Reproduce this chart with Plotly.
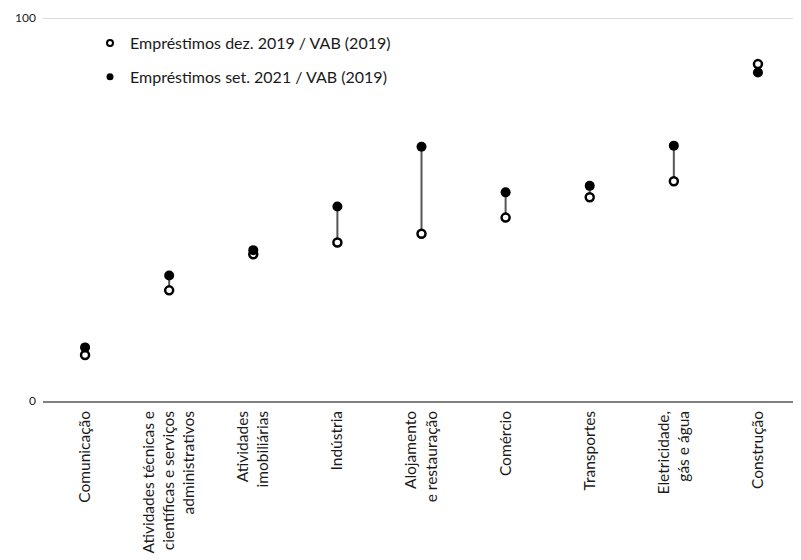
import plotly.graph_objects as go

categories = [
    "Comunicação",
    "Atividades técnicas e<br>científicas e serviços<br>administrativos",
    "Atividades<br>imobiliárias",
    "Indústria",
    "Alojamento<br>e restauração",
    "Comércio",
    "Transportes",
    "Eletricidade,<br>gás e água",
    "Construção",
]
emp_dez2019 = [12.0, 28.9, 38.3, 41.4, 43.7, 47.9, 53.2, 57.4, 88.0]
emp_set2021 = [14.0, 32.8, 39.4, 50.8, 66.4, 54.5, 56.2, 66.7, 85.8]
series_names = ["Empréstimos dez. 2019 / VAB (2019)",
                "Empréstimos set. 2021 / VAB (2019)"]
y_ticks = [0, 100]

FONT = "Lato"
TXT = "#1a1a1a"

# connector segments built from the data
seg_x, seg_y = [], []
for c, a, b in zip(categories, emp_dez2019, emp_set2021):
    seg_x += [c, c, None]
    seg_y += [a, b, None]

open_marker = dict(symbol="circle", size=8, color="white",
                   line=dict(color="black", width=2.5))
filled_marker = dict(symbol="circle", size=10, color="black",
                     line=dict(color="black", width=0))

fig = go.Figure()
fig.add_trace(go.Scatter(
    x=seg_x, y=seg_y, mode="lines",
    line=dict(color="#555555", width=2),
    showlegend=False, hoverinfo="skip",
))
fig.add_trace(go.Scatter(
    x=categories, y=emp_dez2019, mode="markers", name=series_names[0],
    marker=open_marker, showlegend=False,
))
fig.add_trace(go.Scatter(
    x=categories, y=emp_set2021, mode="markers", name=series_names[1],
    marker=filled_marker, showlegend=False,
))
# legend entries (smaller symbols, as in the reference)
fig.add_trace(go.Scatter(
    x=[None], y=[None], mode="markers", name=series_names[0],
    marker=dict(symbol="circle", size=6, color="white",
                line=dict(color="black", width=2)),
    legendgroup="a",
))
fig.add_trace(go.Scatter(
    x=[None], y=[None], mode="markers", name=series_names[1],
    marker=dict(symbol="circle", size=7, color="black",
                line=dict(width=0)),
    legendgroup="b",
))

# page body adds an 8px offset; figure sized so the plot lands where the reference has it
W, H = 793, 552
L, R, T, B = 35, 1, 9, 159
pw = W - L - R
ph = H - T - B

fig.update_layout(
    width=W, height=H,
    margin=dict(l=L, r=R, t=T, b=B),
    paper_bgcolor="white", plot_bgcolor="white",
    font=dict(family=FONT, size=16, color=TXT),
    legend=dict(
        x=(110 - 20 - 43) / pw, y=1 - 9 / ph, xanchor="left", yanchor="top",
        bgcolor="rgba(0,0,0,0)", font=dict(size=16, color=TXT),
        itemsizing="trace", tracegroupgap=10, itemwidth=30,
    ),
    xaxis=dict(
        type="category", range=[-0.5, 8.5], tickangle=-90,
        showgrid=False, showline=True, linecolor="#7f7f7f", linewidth=1.5,
        ticks="", ticklabelstandoff=2, automargin=False,
        tickfont=dict(family=FONT, size=15.5, color=TXT),
    ),
    yaxis=dict(
        range=[0, 100.3], tickvals=y_ticks, ticktext=[str(v) for v in y_ticks],
        showgrid=True, gridcolor="#d9d9d9", gridwidth=1,
        zeroline=False, showline=False, ticks="", automargin=False,
        tickfont=dict(family=FONT, size=12, color=TXT),
        ticklabelstandoff=6,
    ),
    showlegend=True,
)

fig.write_html("out.html")
